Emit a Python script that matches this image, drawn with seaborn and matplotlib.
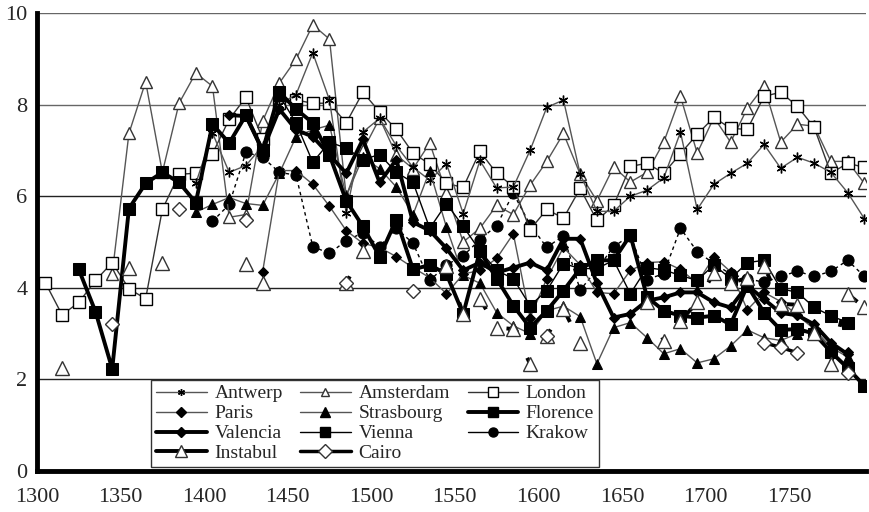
import numpy as np
import pandas as pd
import matplotlib
matplotlib.use("Agg")
import matplotlib.pyplot as plt
from matplotlib.lines import Line2D
import seaborn as sns

nan = np.nan

# decade mid-points 1305 ... 1795
years = list(range(1305, 1800, 10))

antwerp = [nan] * 9 + [6.28, 7.38, 6.52, 6.67, 7.1, 8.0, 8.22, 9.13, 8.1, 5.63,
                       7.4, 7.7, 7.1, 6.63, 6.35, 6.71, 5.62, 6.78, 6.18, 6.2,
                       7.0, 7.94, 8.1, 6.48, 5.67, 5.67, 6.0, 6.13, 6.4, 7.4,
                       5.71, 6.26, 6.5, 6.72, 7.13, 6.61, 6.85, 6.72, 6.52, 6.08,
                       5.51]
amsterdam = [nan, nan, nan, nan, 4.31, 7.37, 8.5, 6.52, 8.03, 8.69,
             8.4, 5.54, 5.6, 7.64, 8.47, 8.99, 9.74, 9.43, 6.0, 7.0,
             7.7, 6.9, 6.6, 7.16, 6.07, 5.0, 5.3, 5.8, 5.6, 6.24,
             6.76, 7.37, 6.48, 5.9, 6.64, 6.31, 6.52, 7.18, 8.18, 6.94,
             7.72, 7.18, 7.92, 8.4, 7.18, 7.57, 7.53, 6.76, 6.76, 6.28]
london = [4.11, 3.41, 3.68, 4.16, 4.55, 3.98, 3.76, 5.71, 6.48, 6.5,
          6.93, 7.68, 8.16, 7.25, 8.03, 8.1, 8.03, 8.03, 7.6, 8.27,
          7.84, 7.46, 6.94, 6.7, 6.28, 6.19, 6.98, 6.5, 6.21, 5.27,
          5.71, 5.52, 6.17, 5.47, 5.8, 6.65, 6.72, 6.5, 6.93, 7.35,
          7.72, 7.48, 7.46, 8.18, 8.27, 7.96, 7.5, 6.5, 6.72, 6.63]
paris = [nan] * 13 + [4.35, 6.56, 6.56, 6.26, 5.78, 5.25, 4.97,
                      4.88, 4.68, 4.44, 4.22, 3.87, 4.3, 4.38, 4.64, 5.18, 3.35,
                      4.2, 4.88, 4.5, 3.9, 3.87, 4.38, 4.55, 4.57, 4.4, 4.1,
                      4.68, 4.35, 3.52, 3.9, 3.7, 3.4, 3.1, 2.7, 2.6, nan]
strasbourg = [nan] * 9 + [5.65, 5.82, 5.97, 5.84, 5.8, 6.5, 7.3, 7.45, 7.55, 6.0,
                          6.85, 6.6, 6.2, 5.6, 6.56, 5.32, 4.27, 4.1, 3.46, 3.17,
                          3.0, 3.5, 3.6, 3.37, 2.34, 3.13, 3.24, 2.91, 2.56, 2.67,
                          2.36, 2.45, 2.73, 3.08, 2.91, 2.85, 3.0, 3.06, 2.7, 2.49,
                          nan]
florence = [nan, nan, 4.4, 3.48, 2.23, 5.73, 6.28, 6.52, 6.3, 5.86,
            7.57, 7.16, 7.77, 7.0, 8.27, 7.9, 7.6, 6.9, 5.9, 5.34,
            4.68, 5.49, 4.4, 4.5, 4.3, 3.43, 4.8, 4.2, 3.61, 3.13,
            3.5, 3.94, 4.42, 4.6, 4.6, 5.15, 3.8, 3.5, 3.39, 3.35,
            3.39, 3.2, 4.05, 3.46, 3.08, 3.1, 3.0, 2.6, 2.25, 1.86]
valencia = [nan] * 11 + [7.77, 7.75, 7.0, 7.9, 7.45, 7.3, 6.9, 6.5,
                         7.24, 6.3, 6.8, 5.43, 5.25, 4.86, 4.38, 4.55, 4.33, 4.44,
                         4.55, 4.38, 5.07, 5.07, 4.1, 3.35, 3.43, 3.72, 3.79, 3.9,
                         3.9, 3.68, 3.57, 4.05, 3.75, 3.45, 3.4, 3.2, 2.8, 2.55,
                         nan]
vienna = [nan] * 14 + [8.2, 7.6, 6.74, 7.18, 7.05, 6.8,
                       6.91, 6.52, 6.3, 5.3, 5.84, 5.34, 4.81, 4.38, 4.2, 3.61,
                       3.94, 4.53, 4.42, 4.42, 4.6, 3.87, 4.44, 4.39, 4.27, 4.16,
                       4.5, 4.2, 4.55, 4.6, 3.98, 3.9, 3.57, 3.39, 3.24, nan]
krakow = [nan] * 10 + [5.45, 5.82, 6.96, 6.85, 6.52, 6.46, 4.9, 4.75, 5.03, 5.2,
                       4.9, 5.3, 4.97, 4.16, 4.5, 4.7, 5.05, 5.36, 6.06, 5.38,
                       4.88, 5.14, 3.95, 4.4, 4.9, 5.14, 4.18, 4.31, 5.3, 4.79,
                       4.53, 4.3, 4.2, 4.12, 4.25, 4.36, 4.25, 4.36, 4.6, 4.25]
instabul = [nan, 2.25, nan, nan, nan, 4.44, nan, 4.55, nan, nan,
            nan, nan, 4.53, 4.1, nan, nan, nan, nan, 4.1, 4.8,
            nan, nan, nan, nan, 4.48, 3.43, 3.76, 3.13, 3.1, 2.34,
            2.95, 3.54, 2.8, nan, nan, nan, 3.7, 2.84, 3.28, 3.68,
            4.33, 4.1, 4.22, 4.48, 3.65, 3.63, 3.02, 2.34, 3.87, 3.57]
cairo = [nan, nan, nan, nan, 3.22, nan, nan, nan, 5.71, nan,
         nan, nan, 5.47, nan, nan, nan, nan, nan, 4.1, nan,
         nan, nan, 3.94, nan, nan, nan, nan, nan, nan, nan,
         2.95, nan, nan, nan, nan, nan, nan, nan, nan, nan,
         nan, nan, nan, 2.8, 2.7, 2.58, nan, nan, 2.15, nan]

GRAY = "#555555"
styles = {
    "Antwerp": (antwerp, dict(color=GRAY, lw=1, marker=(6, 2, 0), ms=7, mec="black", mfc="black", mew=1)),
    "Paris": (paris, dict(color=GRAY, lw=1, marker="D", ms=5, mec="black", mfc="black")),
    "Valencia": (valencia, dict(color="black", lw=2.8, marker="D", ms=5, mec="black", mfc="black")),
    "Instabul": (instabul, dict(color="black", lw=2.8, ls=(0, (2, 8)), marker="^", ms=10, mec="#333", mfc="white", mew=1)),
    "Amsterdam": (amsterdam, dict(color=GRAY, lw=1, marker="^", ms=8, mec="#333", mfc="white", mew=1)),
    "Strasbourg": (strasbourg, dict(color=GRAY, lw=1, marker="^", ms=7, mec="black", mfc="black")),
    "Vienna": (vienna, dict(color="black", lw=1, marker="s", ms=8, mec="black", mfc="black")),
    "Cairo": (cairo, dict(color="black", lw=2.5, marker="D", ms=7.5, mec="#333", mfc="white", mew=1)),
    "London": (london, dict(color="#333333", lw=1, marker="s", ms=8.5, mec="black", mfc="white", mew=1)),
    "Florence": (florence, dict(color="black", lw=2.8, marker="s", ms=8, mec="black", mfc="black")),
    "Krakow": (krakow, dict(color="black", lw=1, ls=(0, (2.5, 2.5)), marker="o", ms=8, mec="black", mfc="black")),
}
# smaller symbols in the legend box
legend_ms = {"Antwerp": 5, "Paris": 5, "Valencia": 5, "Instabul": 9, "Amsterdam": 5.5,
             "Strasbourg": 6.5, "Vienna": 7, "Cairo": 7, "London": 7, "Florence": 7, "Krakow": 6.5}


def to_frame(vals):
    # one row per valid point, new segment after every gap
    rows, seg, prev = [], 0, False
    for y, v in zip(years, vals):
        if np.isnan(v):
            prev = False
            continue
        if not prev:
            seg += 1
        rows.append((y, v, seg))
        prev = True
    return pd.DataFrame(rows, columns=["year", "value", "seg"])


sns.set_style("white")
plt.rcParams["font.family"] = "serif"
plt.rcParams["font.serif"] = ["Liberation Serif", "Times New Roman", "DejaVu Serif"]

fig = plt.figure(figsize=(8.69, 5.12), dpi=100)
ax = fig.add_axes([37 / 869, 41 / 512, 829 / 869, 458 / 512])

for yv in [2, 4, 6, 8, 10]:
    ax.axhline(yv, color="#666666" if yv in (8, 10) else "#222222", lw=1, zorder=0)

for name in ["Krakow", "Amsterdam", "London", "Antwerp", "Strasbourg", "Paris",
             "Vienna", "Valencia", "Florence", "Instabul", "Cairo"]:
    vals, st = styles[name]
    sns.lineplot(data=to_frame(vals), x="year", y="value", units="seg",
                 estimator=None, ax=ax, legend=False, **st)

ax.set_xlim(1300, 1796)
ax.set_ylim(0, 10)
ax.set_xticks(range(1300, 1751, 50))
ax.set_yticks(range(0, 11, 2))
ax.set_xlabel("")
ax.set_ylabel("")
for s in ["top", "right"]:
    ax.spines[s].set_visible(False)
for s in ["left", "bottom"]:
    ax.spines[s].set_linewidth(3.5)
    ax.spines[s].set_color("black")
ax.tick_params(direction="out", length=4, width=2.5, labelsize=16)
ax.tick_params(axis="x", pad=8)
ax.tick_params(axis="y", pad=3)

handles = []
for name, (vals, st) in styles.items():
    hs = dict(st)
    hs.pop("ls", None)
    hs["ms"] = legend_ms[name]
    handles.append(Line2D([], [], label=name, **hs))
leg = ax.legend(handles=handles, ncol=3, loc="lower left", bbox_to_anchor=(0.133, 0.0),
                fontsize=14, frameon=True, fancybox=False, edgecolor="#333333",
                framealpha=1, handlelength=2.6, columnspacing=0.9, handletextpad=0.4,
                labelspacing=0.12, borderpad=0.25, borderaxespad=0.2)
leg.get_frame().set_linewidth(1)

fig.savefig("out.png", dpi=100)
